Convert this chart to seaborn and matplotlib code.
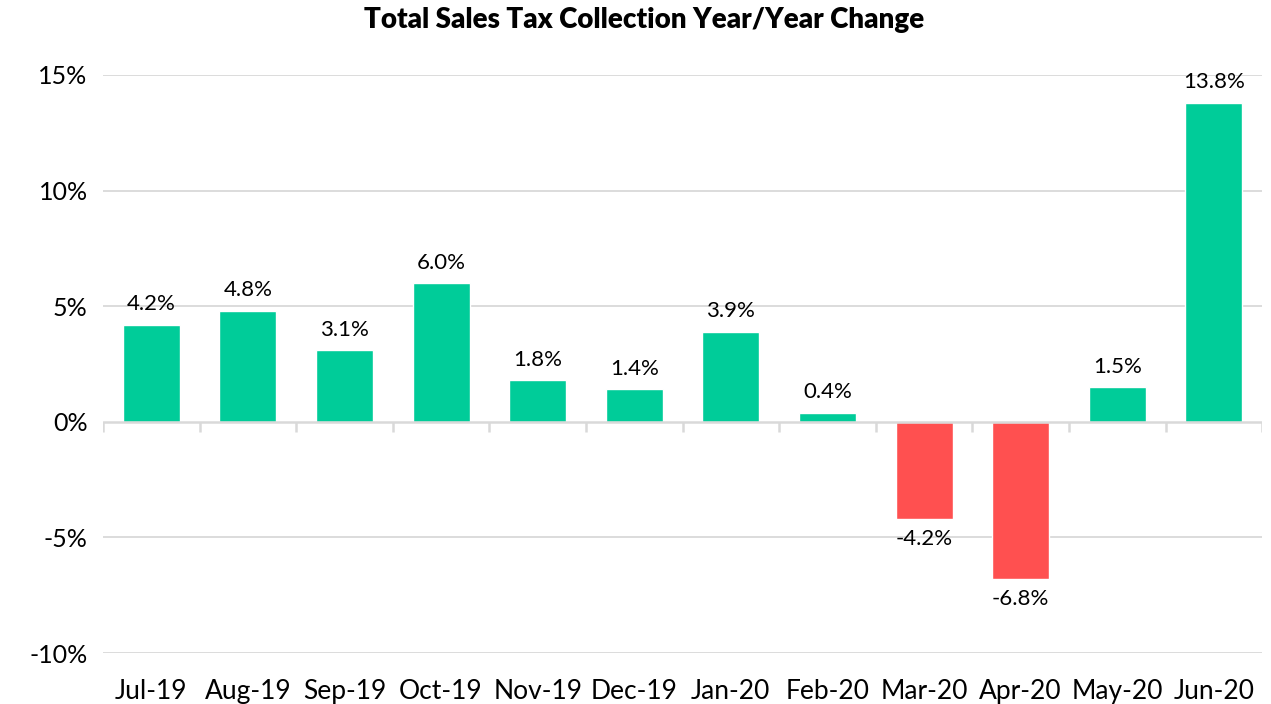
import matplotlib
matplotlib.use("Agg")
import matplotlib.pyplot as plt
import seaborn as sns
import pandas as pd
from matplotlib.ticker import FuncFormatter

months = ["Jul-19", "Aug-19", "Sep-19", "Oct-19", "Nov-19", "Dec-19",
          "Jan-20", "Feb-20", "Mar-20", "Apr-20", "May-20", "Jun-20"]
change = [4.2, 4.8, 3.1, 6.0, 1.8, 1.4, 3.9, 0.4, -4.2, -6.8, 1.5, 13.8]

df = pd.DataFrame({"month": months, "change": change})
df["sign"] = ["neg" if v < 0 else "pos" for v in df["change"]]

sns.set_style("white")
plt.rcParams["font.family"] = ["Lato", "DejaVu Sans"]
plt.rcParams["text.color"] = "black"

fig = plt.figure(figsize=(12.71, 7.04), dpi=100)
ax = fig.add_axes([0.081, 0.0724, 0.912, 0.8211])

sns.barplot(data=df, x="month", y="change", hue="sign",
            palette={"pos": "#00CC99", "neg": "#FF5050"}, saturation=1,
            width=0.59, dodge=False, legend=False, ax=ax)

ax.set_ylim(-10, 15)
ax.set_xlim(-0.5, len(months) - 0.5)
ax.set_yticks([-10, -5, 0, 5, 10, 15])
ax.yaxis.set_major_formatter(FuncFormatter(lambda v, p: f"{v:.0f}%"))
for y in [-10, -5, 5, 10, 15]:
    ax.axhline(y, color="#d9d9d9", lw=1.3, zorder=0)
ax.axhline(0, color="#d9d9d9", lw=1.8, zorder=3)
# category boundary ticks on the zero line
ax.vlines([i - 0.5 for i in range(len(months) + 1)], -0.45, 0,
          color="#d9d9d9", lw=1.8, zorder=3)

for s in ax.spines.values():
    s.set_visible(False)
ax.tick_params(axis="both", length=0, colors="black")
ax.tick_params(axis="y", pad=11, labelsize=18)
ax.tick_params(axis="x", pad=19, labelsize=19)
ax.set_xlabel("")
ax.set_ylabel("")

for i, v in enumerate(change):
    if v >= 0:
        ax.text(i, v + 0.45, f"{v:.1f}%", ha="center", va="bottom",
                fontsize=16, color="black")
    else:
        ax.text(i, v - 0.45, f"{v:.1f}%", ha="center", va="top",
                fontsize=16, color="black")

fig.suptitle("Total Sales Tax Collection Year/Year Change", fontsize=20,
             fontweight="heavy", y=0.99, x=0.507, color="black")

fig.savefig("out.png", dpi=100)
